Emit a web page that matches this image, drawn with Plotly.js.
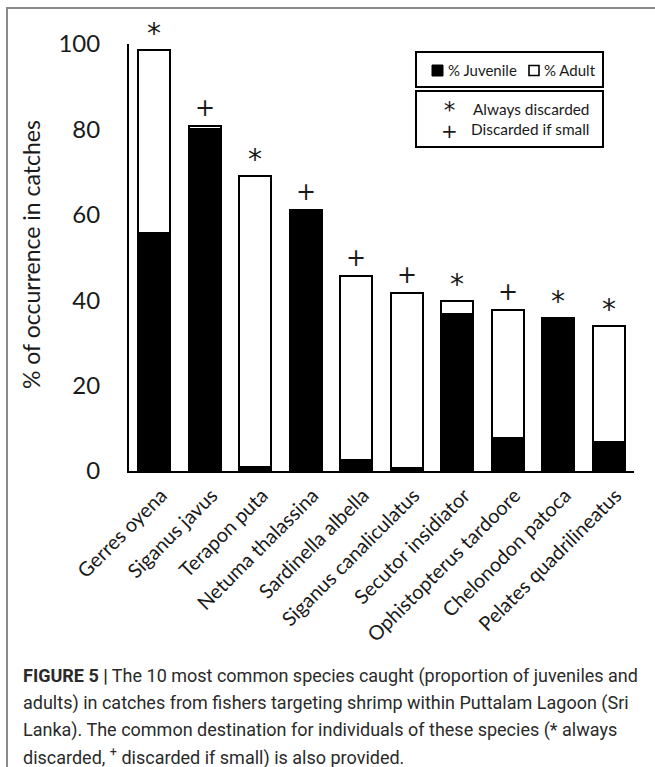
<!DOCTYPE html>
<html>
<head>
<meta charset="utf-8">
<script src="https://cdn.plot.ly/plotly-3.0.1.min.js"></script>
<style>html,body{margin:0;padding:0;background:#fff;}#chart{width:655px;height:767px;}</style>
</head>
<body>
<div id="chart"></div>
<script>
const species = ["Gerres oyena","Siganus javus","Terapon puta","Netuma thalassina","Sardinella albella","Siganus canaliculatus","Secutor insidiator","Ophistopterus tardoore","Chelonodon patoca","Pelates quadrilineatus"];
const juvenile = [55.8, 80.0, 1.0, 61.2, 2.5, 0.6, 36.8, 7.8, 35.9, 6.7];
const adult    = [42.7, 0.8, 68.0, 0.0, 43.1, 41.2, 2.9, 30.0, 0.0, 27.2];
const destination = ["*","+","*","+","+","+","*","+","*","*"];
const yTicks = [0, 20, 40, 60, 80, 100];
const yTitle = "% of occurrence in catches";
const legendBars = ["% Juvenile", "% Adult"];
const legendSymbols = ["*", "+"];
const legendMeanings = ["Always discarded", "Discarded if small"];
const captionLines = [
  "<b>FIGURE 5 |</b> The 10 most common species caught (proportion of juveniles and",
  "adults) in catches from fishers targeting shrimp within Puttalam Lagoon (Sri",
  "Lanka). The common destination for individuals of these species (* always",
  "discarded, <sup>+</sup> discarded if small) is also provided."
];

const W = 655, H = 767;
const L = 129, R = 21, T = 44, B = 296;
const pw = W - L - R, ph = H - T - B;
const px = x => (x - L) / pw;
const py = y => (H - B - y) / ph;
const FONT = "Lato, 'Open Sans', sans-serif";
const SYM = "'DejaVu Sans', sans-serif";
const INK = "#1a1a1a";

const traces = [
  {type:"bar", x:species, y:juvenile, name:"% Juvenile",
   marker:{color:"#000", line:{color:"#000", width:2}}, hoverinfo:"skip"},
  {type:"bar", x:species, y:adult, name:"% Adult",
   marker:{color:"#fff", line:{color:"#000", width:2}}, hoverinfo:"skip"}
];

const annotations = [];
function note(o) { annotations.push(Object.assign({showarrow:false, xanchor:"center", yanchor:"middle"}, o)); }

species.forEach((s, i) => {
  const sym = destination[i];
  note({x:s, y:juvenile[i] + adult[i], xref:"x", yref:"y", text:sym,
    yanchor:"bottom", yshift: sym === "*" ? -2 : 2,
    font:{family:SYM, size: sym === "*" ? 28 : 24, color:INK}});
});
// y title
note({xref:"paper", yref:"paper", x:px(31), y:py(255), text:yTitle, textangle:-90,
  font:{family:FONT, size:23, color:INK}});
// legend texts
note({xref:"paper", yref:"paper", x:px(446), y:py(70), text:legendBars[0], xanchor:"left", font:{family:FONT, size:15, color:INK}});
note({xref:"paper", yref:"paper", x:px(542), y:py(70), text:legendBars[1], xanchor:"left", font:{family:FONT, size:15, color:INK}});
const symSizes = {"*": 23, "+": 20};
note({xref:"paper", yref:"paper", x:px(449), y:py(120), align:"center",
  text: legendSymbols.map(s => '<span style="font-size:' + symSizes[s] + 'px">' + s + '</span>').join("<br>"),
  font:{family:SYM, size:15.4, color:INK}});
note({xref:"paper", yref:"paper", x:px(592), y:py(119), xanchor:"right", align:"right",
  text: legendMeanings.join("<br>"), font:{family:FONT, size:15.4, color:INK}});
// caption
captionLines.forEach((t, k) => {
  note({xref:"paper", yref:"paper", x:px(21), y:py(676 + k * 27), text:t, xanchor:"left", align:"left",
    font:{family:"Roboto, 'Liberation Sans', sans-serif", size:18, color:"#2a2a2a"}});
});

const shapes = [
  {type:"rect", xref:"paper", yref:"paper", x0:px(416), x1:px(603), y0:py(52), y1:py(87), line:{color:"#000", width:2}},
  {type:"rect", xref:"paper", yref:"paper", x0:px(416), x1:px(603), y0:py(91), y1:py(147), line:{color:"#000", width:2}},
  {type:"rect", xref:"paper", yref:"paper", x0:px(432), x1:px(443), y0:py(65), y1:py(76), line:{color:"#000", width:1}, fillcolor:"#000"},
  {type:"rect", xref:"paper", yref:"paper", x0:px(529), x1:px(539), y0:py(65.5), y1:py(75.5), line:{color:"#000", width:1.6}, fillcolor:"#fff"},
  {type:"line", xref:"paper", yref:"paper", x0:px(6), x1:px(655), y0:py(8), y1:py(8), line:{color:"#8a8a8a", width:2}},
  {type:"line", xref:"paper", yref:"paper", x0:px(7), x1:px(7), y0:py(8), y1:py(767), line:{color:"#8a8a8a", width:2}}
];

const layout = {
  width:W, height:H, margin:{l:L, r:R, t:T, b:B},
  paper_bgcolor:"#fff", plot_bgcolor:"#fff",
  barmode:"stack", bargap:0.37, showlegend:false,
  xaxis:{type:"category", range:[-0.5, 9.5], showline:true, linecolor:"#000", linewidth:2,
    ticks:"", tickangle:-45, ticklabelshift:7, ticklabelstandoff:3,
    tickfont:{family:FONT, size:20, color:INK}, showgrid:false, zeroline:false, fixedrange:true},
  yaxis:{range:[0, 100], tickvals:yTicks, showline:true, linecolor:"#000", linewidth:2,
    ticks:"", ticklabelstandoff:22, tickfont:{family:FONT, size:24, color:INK}, showgrid:false, zeroline:false, fixedrange:true},
  annotations, shapes
};
Plotly.newPlot("chart", traces, layout, {staticPlot:true, displayModeBar:false});
</script>
</body>
</html>
